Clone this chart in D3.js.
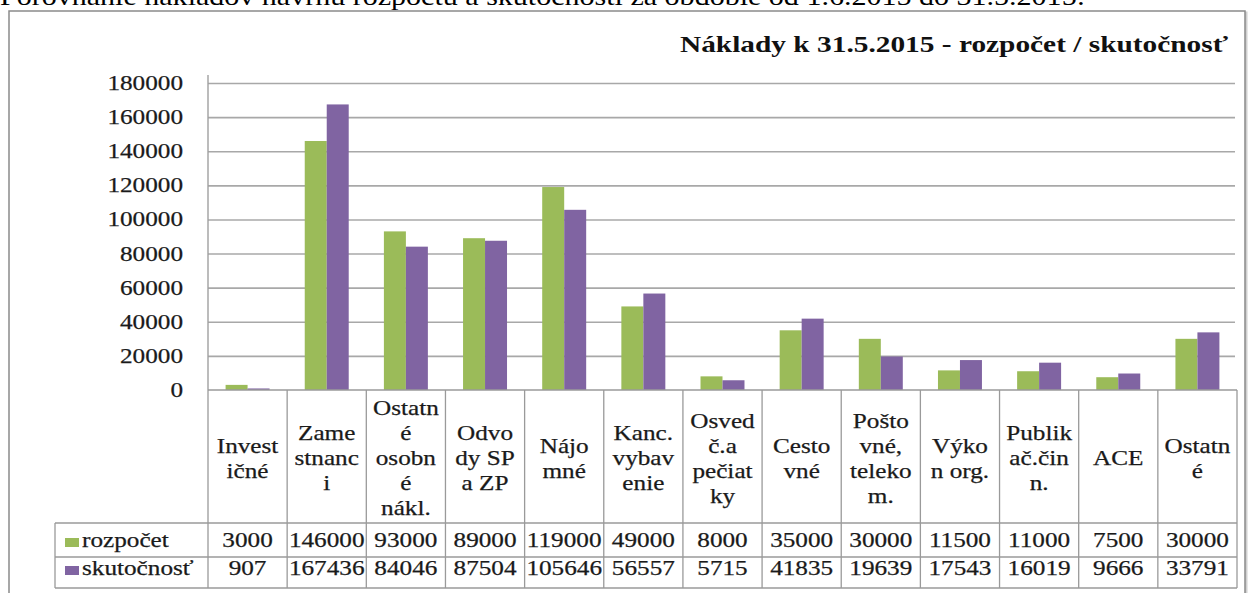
<!DOCTYPE html>
<html><head><meta charset="utf-8">
<script src="https://cdn.jsdelivr.net/npm/d3@7/dist/d3.min.js"></script>
<style>html,body{margin:0;padding:0;background:#fff;overflow:hidden}</style>
</head><body>
<svg id="c" width="1253" height="593"></svg>
<script>
const categories = [
  ["Invest","ičné"],
  ["Zame","stnanc","i"],
  ["Ostatn","é","osobn","é","nákl."],
  ["Odvo","dy SP","a ZP"],
  ["Nájo","mné"],
  ["Kanc.","vybav","enie"],
  ["Osved","č.a","pečiat","ky"],
  ["Cesto","vné"],
  ["Pošto","vné,","teleko","m."],
  ["Výko","n org."],
  ["Publik","ač.čin","n."],
  ["ACE"],
  ["Ostatn","é"]
];
const seriesNames = ["rozpočet","skutočnosť"];
const rozpocet   = [3000,146000,93000,89000,119000,49000,8000,35000,30000,11500,11000,7500,30000];
const skutocnost = [907,167436,84046,87504,105646,56557,5715,41835,19639,17543,16019,9666,33791];
const yTicks = [0,20000,40000,60000,80000,100000,120000,140000,160000,180000];
const colors = ["#9bbb59","#8064a2"];
const title = "Náklady k 31.5.2015 - rozpočet / skutočnosť";
const headline = "Porovnanie nákladov návrhu rozpočtu a skutočnosti za obdobie od 1.6.2015 do 31.5.2015:";

(function(){
const svg = d3.select("#c");
const SX = 1.2;
const FAM = "'Liberation Serif'";

svg.append("text").attr("x",0).attr("y",5)
  .style("font-family",FAM).style("font-size","26px")
  .attr("textLength",1085).attr("lengthAdjust","spacingAndGlyphs")
  .attr("fill","#000").text(headline);

svg.append("rect").attr("x",11).attr("y",13).attr("width",1235).attr("height",600)
  .attr("fill","none").attr("stroke","#d0d0d0").attr("stroke-width",3);
svg.append("rect").attr("x",9).attr("y",11).attr("width",1236).attr("height",600)
  .attr("fill","#fff").attr("stroke","#8a8a8a").attr("stroke-width",1.5);

svg.append("text").attr("x",680).attr("y",52)
  .style("font-family",FAM).style("font-size","23px").style("font-weight","bold")
  .attr("textLength",548).attr("lengthAdjust","spacingAndGlyphs")
  .attr("fill","#111").text(title);

const pl = 208, pr = 1237, pt = 83, zero = 390;
const y = d3.scaleLinear().domain([0,180000]).range([zero, pt]);
const x0 = d3.scaleBand().domain(d3.range(categories.length)).range([pl,pr]).paddingInner(0).paddingOuter(0);
const x1 = d3.scaleBand().domain(seriesNames).range([0,x0.bandwidth()]).paddingInner(0).paddingOuter(0.8);

function stretchedText(parent, xx, yy, str, size, anchor) {
  const t = parent.append("text").attr("x",xx).attr("y",yy)
    .style("font-family",FAM).style("font-size",size+"px")
    .style("text-anchor",anchor).attr("fill","#1a1a1a")
    .attr("stroke","#1a1a1a").attr("stroke-width",0.25).text(str);
  const w = t.node().getComputedTextLength();
  t.attr("textLength", w*SX).attr("lengthAdjust","spacingAndGlyphs");
  return t;
}

const yAxis = d3.axisLeft(y).tickValues(yTicks).tickSize(-(pr-2-pl)).tickFormat("");
const ga = svg.append("g").attr("transform",`translate(${pl},0)`).call(yAxis);
ga.select(".domain").remove();
ga.selectAll(".tick line").attr("stroke","#a8a8a8").attr("stroke-width",1.6);
ga.selectAll(".tick").filter(d=>d===0).remove();
const lab = svg.append("g");
yTicks.forEach(v=>{ stretchedText(lab, 183, y(v)+7, String(v), 21, "end"); });
svg.append("line").attr("x1",pl).attr("x2",pl).attr("y1",pt-8).attr("y2",zero)
  .attr("stroke","#a0a0a0").attr("stroke-width",1.4);

const seriesVals = [rozpocet, skutocnost];
seriesNames.forEach((s,si)=>{
  svg.append("g").selectAll("rect").data(seriesVals[si]).join("rect")
    .attr("x",(d,i)=>x0(i)+x1(s))
    .attr("y",d=>y(d))
    .attr("width",x1.bandwidth())
    .attr("height",d=>zero-y(d))
    .attr("fill",colors[si]);
});

const rowTop = 523, rowBot = 588, legLeft = 55, rowMid = 557;
const lineC = "#9a9a9a";
const tbl = svg.append("g");
tbl.append("line").attr("x1",pl).attr("x2",pr).attr("y1",zero).attr("y2",zero).attr("stroke",lineC).attr("stroke-width",1.6);
[rowTop,rowMid,rowBot].forEach(yy=>tbl.append("line").attr("x1",legLeft).attr("x2",pr).attr("y1",yy).attr("y2",yy).attr("stroke",lineC).attr("stroke-width",1.3));
d3.range(categories.length+1).forEach(i=>{
  const xx = pl + i*x0.step();
  tbl.append("line").attr("x1",xx).attr("x2",xx).attr("y1",zero).attr("y2",rowBot).attr("stroke",lineC).attr("stroke-width",1.3);
});
tbl.append("line").attr("x1",legLeft).attr("x2",legLeft).attr("y1",rowTop).attr("y2",rowBot).attr("stroke",lineC).attr("stroke-width",1.3);

const tx = svg.append("g");
categories.forEach((lines,i)=>{
  const cx = x0(i)+x0.bandwidth()/2;
  const n = lines.length;
  lines.forEach((ln,k)=>{ stretchedText(tx, cx, 465 + (k-(n-1)/2)*25, ln, 21, "middle"); });
});
const rowBase = [547,575];
seriesVals.forEach((vals,si)=>{
  vals.forEach((v,i)=>{ stretchedText(tx, x0(i)+x0.bandwidth()/2, rowBase[si], String(v), 21, "middle"); });
  svg.append("rect").attr("x",65).attr("y",rowBase[si]-9).attr("width",14).attr("height",9).attr("fill",colors[si]);
  stretchedText(tx, 82, rowBase[si], seriesNames[si], 21, "start");
});
})();
</script>
</body></html>
